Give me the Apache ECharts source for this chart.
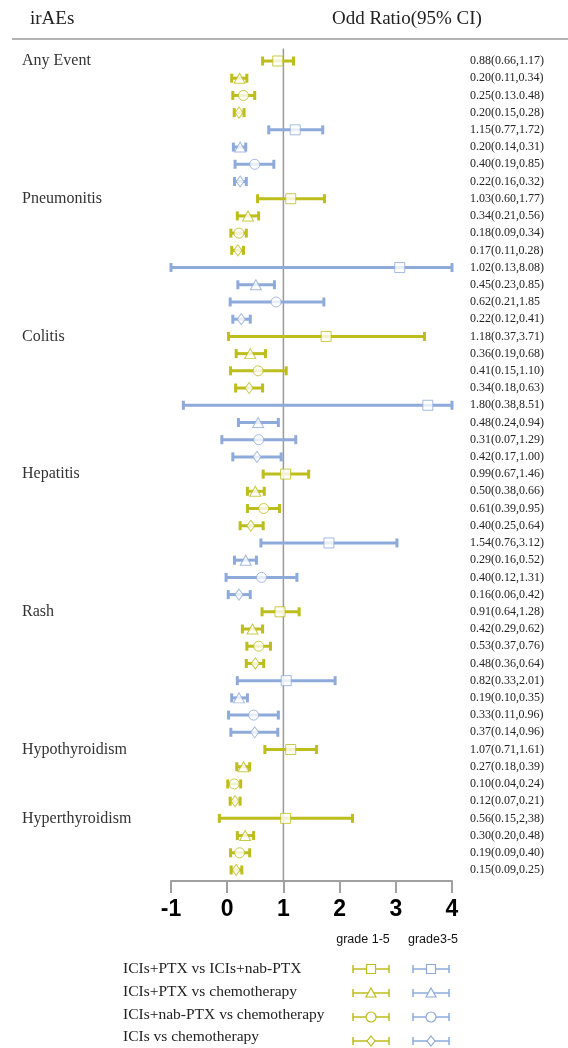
<!DOCTYPE html>
<html><head><meta charset="utf-8">
<script src="https://cdn.jsdelivr.net/npm/echarts@6/dist/echarts.min.js"></script>
<style>html,body{margin:0;padding:0;background:#fff}#c{width:568px;height:1048px}</style>
</head><body><div id="c"></div>
<script>
// ---------- data ----------
const groupNames = ['Any Event','Pneumonitis','Colitis','Hepatitis','Rash','Hypothyroidism','Hyperthyroidism'];
const groupStartRow = [0, 8, 16, 24, 32, 40, 44];
const comparisons = ['ICIs+PTX vs ICIs+nab-PTX','ICIs+PTX vs chemotherapy','ICIs+nab-PTX vs chemotherapy','ICIs vs chemotherapy'];
const gradeNames = ['grade 1-5', 'grade3-5'];
// per row: comparison index (0..3) and grade index (0 = grade 1-5, 1 = grade3-5)
const rowComparison = [0,1,2,3,0,1,2,3, 0,1,2,3,0,1,2,3, 0,1,2,3,0,1,2,3, 0,1,2,3,0,1,2,3, 0,1,2,3,0,1,2,3, 0,1,2,3, 0,1,2,3];
const rowGrade      = [0,0,0,0,1,1,1,1, 0,0,0,0,1,1,1,1, 0,0,0,0,1,1,1,1, 0,0,0,0,1,1,1,1, 0,0,0,0,1,1,1,1, 0,0,0,0, 0,0,0,0];
const orLabels = [
 '0.88(0.66,1.17)','0.20(0.11,0.34)','0.25(0.13.0.48)','0.20(0.15,0.28)','1.15(0.77,1.72)','0.20(0.14,0.31)','0.40(0.19,0.85)','0.22(0.16,0.32)',
 '1.03(0.60,1.77)','0.34(0.21,0.56)','0.18(0.09,0.34)','0.17(0.11,0.28)','1.02(0.13,8.08)','0.45(0.23,0.85)','0.62(0.21,1.85','0.22(0.12,0.41)',
 '1.18(0.37,3.71)','0.36(0.19,0.68)','0.41(0.15,1.10)','0.34(0.18,0.63)','1.80(0.38,8.51)','0.48(0.24,0.94)','0.31(0.07,1.29)','0.42(0.17,1.00)',
 '0.99(0.67,1.46)','0.50(0.38,0.66)','0.61(0.39,0.95)','0.40(0.25,0.64)','1.54(0.76,3.12)','0.29(0.16,0.52)','0.40(0.12,1.31)','0.16(0.06,0.42)',
 '0.91(0.64,1.28)','0.42(0.29,0.62)','0.53(0.37,0.76)','0.48(0.36,0.64)','0.82(0.33,2.01)','0.19(0.10,0.35)','0.33(0.11,0.96)','0.37(0.14,0.96)',
 '1.07(0.71,1.61)','0.27(0.18,0.39)','0.10(0.04,0.24)','0.12(0.07,0.21)',
 '0.56(0.15,2,38)','0.30(0.20,0.48)','0.19(0.09,0.40)','0.15(0.09,0.25)'
];
// plotted positions
const estimate = [
 0.90,0.22,0.29,0.21,1.21,0.23,0.49,0.23,
 1.13,0.37,0.21,0.19,3.07,0.51,0.87,0.25,
 1.76,0.41,0.55,0.39,3.57,0.55,0.56,0.53,
 1.04,0.50,0.65,0.42,1.81,0.33,0.61,0.21,
 0.94,0.45,0.56,0.50,1.05,0.21,0.47,0.49,
 1.13,0.29,0.125,0.14,
 1.04,0.32,0.22,0.16
];
const lower = [
 0.63,0.08,0.10,0.125,0.74,0.11,0.14,0.13,
 0.54,0.18,0.065,0.08,-1.0,0.19,0.053,0.10,
 0.024,0.16,0.06,0.15,-0.78,0.20,-0.095,0.10,
 0.64,0.36,0.36,0.23,0.60,0.13,-0.02,0.018,
 0.62,0.27,0.35,0.34,0.18,0.08,0.024,0.065,
 0.67,0.17,0.01,0.053,
 -0.14,0.18,0.06,0.07
];
const upper = [
 1.18,0.35,0.49,0.30,1.70,0.33,0.83,0.34,
 1.73,0.56,0.34,0.29,4.0,0.84,1.72,0.41,
 3.51,0.68,1.05,0.63,4.0,0.91,1.22,0.96,
 1.45,0.66,0.93,0.64,3.02,0.52,1.24,0.41,
 1.28,0.63,0.77,0.65,1.92,0.36,0.91,0.90,
 1.59,0.40,0.24,0.23,
 2.23,0.47,0.40,0.26
];
const xTicks = [-1, 0, 1, 2, 3, 4];
const refValue = 1;

// ---------- styles ----------
const gradeColors = ['#BDBD1C', '#8EAADB'];
const symbolTypes = ['rect', 'triangle', 'circle', 'diamond'];
const symbolSizes = [[10,10],[11,10],[10,10],[8,11]];
const SERIF = "'Liberation Serif','Times New Roman',serif";
const SANS = "'Liberation Sans',Arial,sans-serif";

const rows = orLabels.map((_, i) => String(i));
const barData = rows.map((r, i) => [lower[i], upper[i], i, rowGrade[i]]);
const pointData = rows.map((r, i) => ({
  value: [estimate[i], i],
  symbol: symbolTypes[rowComparison[i]],
  symbolSize: symbolSizes[rowComparison[i]],
  itemStyle: { color: '#fff', borderColor: gradeColors[rowGrade[i]], borderWidth: 1 }
}));

function legendSymbol(x, y, color, type) {
  const ms = { fill: '#fff', stroke: color, lineWidth: 1.2 };
  return {
    type: 'group', x: x, y: y, children: [
      { type: 'line', shape: { x1: 0, y1: 0, x2: 36, y2: 0 }, style: { stroke: color, lineWidth: 1.5 } },
      { type: 'line', shape: { x1: 0, y1: -4, x2: 0, y2: 4 }, style: { stroke: color, lineWidth: 1.5 } },
      { type: 'line', shape: { x1: 36, y1: -4, x2: 36, y2: 4 }, style: { stroke: color, lineWidth: 1.5 } },
      type === 'rect' ? { type: 'rect', shape: { x: 13.5, y: -4.5, width: 9, height: 9 }, style: ms } :
      type === 'triangle' ? { type: 'polygon', shape: { points: [[18,-5],[23,4],[13,4]] }, style: ms } :
      type === 'circle' ? { type: 'circle', shape: { cx: 18, cy: 0, r: 5 }, style: ms } :
      { type: 'polygon', shape: { points: [[18,-5],[22,0],[18,5],[14,0]] }, style: ms }
    ]
  };
}

const legendRowsY = [969, 993, 1017, 1041];
const legendTextY = [969, 992, 1015, 1037];
const graphics = [
  { type: 'text', left: 30, top: 10, style: { text: 'irAEs', font: '19px ' + SERIF, fill: '#222' } },
  { type: 'text', left: 332, top: 10, style: { text: 'Odd Ratio(95% CI)', font: '19px ' + SERIF, fill: '#222' } },
  { type: 'line', shape: { x1: 12, y1: 39, x2: 568, y2: 39 }, style: { stroke: '#9a9a9a', lineWidth: 1.5 } },
  { type: 'text', x: 363, y: 940, style: { text: gradeNames[0], font: '12.5px ' + SANS, fill: '#111', align: 'center', verticalAlign: 'middle' } },
  { type: 'text', x: 433, y: 940, style: { text: gradeNames[1], font: '12.5px ' + SANS, fill: '#111', align: 'center', verticalAlign: 'middle' } }
];
comparisons.forEach((name, k) => {
  graphics.push({ type: 'text', x: 123, y: legendTextY[k], style: { text: name, font: '15.5px ' + SERIF, fill: '#222', verticalAlign: 'middle' } });
  graphics.push(legendSymbol(353, legendRowsY[k], gradeColors[0], symbolTypes[k]));
  graphics.push(legendSymbol(413, legendRowsY[k], gradeColors[1], symbolTypes[k]));
});

const chart = echarts.init(document.getElementById('c'), null, { renderer: 'canvas' });
chart.setOption({
  animation: false,
  backgroundColor: '#fff',
  grid: { left: 171, right: 116, top: 52.4, height: 826.2, containLabel: false },
  xAxis: {
    type: 'value', min: xTicks[0], max: xTicks[xTicks.length - 1], interval: 1, offset: 2.5,
    axisLine: { show: true, lineStyle: { color: '#a0a0a0', width: 2 } },
    axisTick: { show: true, length: 12, lineStyle: { color: '#a0a0a0', width: 2 } },
    axisLabel: { fontSize: 23, fontWeight: 'bold', color: '#000', fontFamily: SANS, margin: 17 },
    splitLine: { show: false }
  },
  yAxis: [
    {
      type: 'category', data: rows, inverse: true, position: 'left',
      axisLine: { show: false }, axisTick: { show: false }, splitLine: { show: false },
      axisLabel: {
        interval: 0, align: 'left', margin: 149, fontSize: 16, fontFamily: SERIF, color: '#333',
        formatter: (v) => { const g = groupStartRow.indexOf(Number(v)); return g >= 0 ? groupNames[g] : ''; }
      }
    },
    {
      type: 'category', data: rows, inverse: true, position: 'right',
      axisLine: { show: false }, axisTick: { show: false }, splitLine: { show: false },
      axisLabel: { interval: 0, align: 'left', margin: 18, fontSize: 12, fontFamily: SERIF, color: '#222',
        formatter: (v) => orLabels[Number(v)] }
    }
  ],
  series: [
    {
      // reference line at OR = 1
      type: 'custom', xAxisIndex: 0, yAxisIndex: 0, z: 1, silent: true,
      data: [[refValue, 0]],
      encode: { x: 0, y: 1 },
      clip: false,
      renderItem: (params, api) => {
        const cs = params.coordSys;
        const x = api.coord([api.value(0), 0])[0];
        return { type: 'line', shape: { x1: x, y1: cs.y - 4, x2: x, y2: cs.y + cs.height + 2.5 },
                 style: { stroke: '#9a9a9a', lineWidth: 1.5 } };
      }
    },
    {
      type: 'custom', xAxisIndex: 0, yAxisIndex: 0, z: 2,
      encode: { x: [0, 1], y: 2 },
      data: barData,
      renderItem: (params, api) => {
        const a = api.coord([api.value(0), api.value(2)]);
        const b = api.coord([api.value(1), api.value(2)]);
        const color = gradeColors[api.value(3)];
        const st = { stroke: color, lineWidth: 3 };
        return {
          type: 'group', children: [
            { type: 'line', shape: { x1: a[0], y1: a[1], x2: b[0], y2: b[1] }, style: st },
            { type: 'line', shape: { x1: a[0], y1: a[1] - 4.5, x2: a[0], y2: a[1] + 4.5 }, style: st },
            { type: 'line', shape: { x1: b[0], y1: b[1] - 4.5, x2: b[0], y2: b[1] + 4.5 }, style: st }
          ]
        };
      }
    },
    {
      type: 'scatter', xAxisIndex: 0, yAxisIndex: 0, z: 3,
      data: pointData
    }
  ],
  graphic: graphics
});
</script>
</body></html>
